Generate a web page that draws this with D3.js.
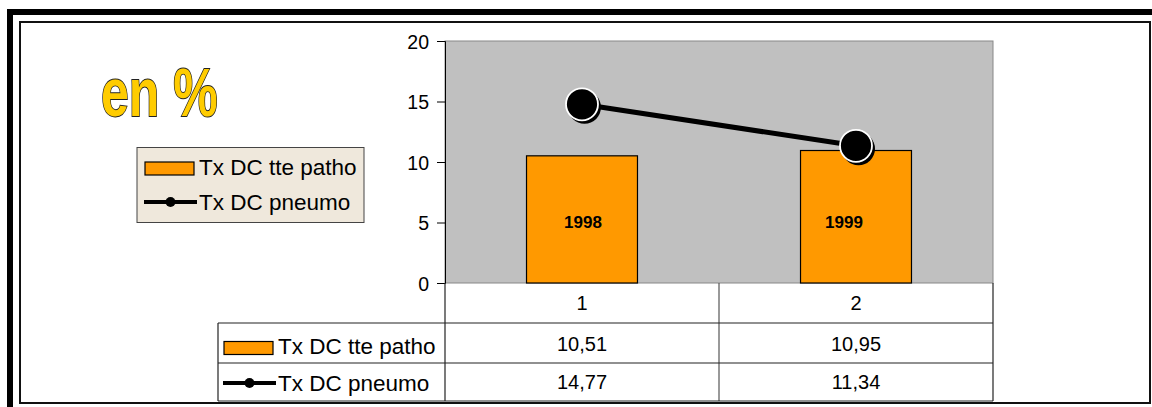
<!DOCTYPE html>
<html><head><meta charset="utf-8">
<script src="https://cdn.jsdelivr.net/npm/d3@7"></script>
<style>html,body{margin:0;padding:0;background:#fff;}svg{display:block;font-family:Arial,"Liberation Sans",sans-serif;}</style>
</head><body><svg id="c" width="1152" height="407"></svg>
<script>
const categories = ["1","2"];
const barLabels = ["1998","1999"];
const seriesNames = ["Tx DC tte patho","Tx DC pneumo"];
const patho = [10.51, 10.95];
const pneumo = [14.77, 11.34];
const tableLabels = ["10,51","10,95"];
const tableLabels2 = ["14,77","11,34"];
const yTicks = [0,5,10,15,20];

const svg = d3.select("#c");
const orange = "#FF9900";

// frames
svg.append("path").attr("d","M10,407 V12 H1152").attr("fill","none").attr("stroke","#000").attr("stroke-width",6);
svg.append("rect").attr("x",20).attr("y",22).attr("width",1130).attr("height",381)
  .attr("fill","#fff").attr("stroke","#111").attr("stroke-width",2);

const x = d3.scaleBand().domain(categories).range([445,993]);
const y = d3.scaleLinear().domain([0,20]).range([283,41]);

// plot area
svg.append("rect").attr("x",445).attr("y",y(20)).attr("width",548).attr("height",y(0)-y(20))
  .attr("fill","#C0C0C0").attr("stroke","#888").attr("stroke-width",1);

// y axis
const ya = svg.append("g").attr("transform","translate(445,0)")
  .call(d3.axisLeft(y).tickValues(yTicks).tickSize(8).tickPadding(8));
ya.select(".domain").attr("stroke","#000");
ya.selectAll(".tick line").attr("stroke","#000");
ya.selectAll(".tick text").attr("font-size",19.5).attr("fill","#000").attr("dy","0.36em")
  .attr("font-family","Arial, 'Liberation Sans', sans-serif");

// bars
const bw = x.bandwidth()*0.405;
svg.selectAll(".bar").data(categories).enter().append("rect")
  .attr("x",(d)=>x(d)+x.bandwidth()/2-bw/2).attr("y",(d,i)=>y(patho[i]))
  .attr("width",bw).attr("height",(d,i)=>y(0)-y(patho[i]))
  .attr("fill",orange).attr("stroke","#000").attr("stroke-width",1.2);
const labDx = [1,-12];
svg.selectAll(".bl").data(categories).enter().append("text")
  .attr("x",(d,i)=>x(d)+x.bandwidth()/2+labDx[i]).attr("y",y(5)+5)
  .attr("text-anchor","middle").attr("font-size",17).attr("font-weight","bold").text((d,i)=>barLabels[i]);

// line
const line = d3.line().x((d,i)=>x(categories[i])+x.bandwidth()/2).y(d=>y(d));
svg.append("path").datum(pneumo).attr("d",line).attr("fill","none").attr("stroke","#000").attr("stroke-width",5);
svg.selectAll(".sh").data(pneumo).enter().append("circle")
  .attr("cx",(d,i)=>x(categories[i])+x.bandwidth()/2+2.5).attr("cy",d=>y(d)+3).attr("r",16.5).attr("fill","#000");
svg.selectAll(".pt").data(pneumo).enter().append("circle")
  .attr("cx",(d,i)=>x(categories[i])+x.bandwidth()/2).attr("cy",d=>y(d)).attr("r",16)
  .attr("fill","#000").attr("stroke","#fff").attr("stroke-width",1.8);

// data table
const g = svg.append("g").attr("stroke","#222").attr("stroke-width",1.2);
g.append("line").attr("x1",445).attr("x2",445).attr("y1",283).attr("y2",401);
g.append("line").attr("x1",x("2")).attr("x2",x("2")).attr("y1",283).attr("y2",401).attr("stroke","#555");
g.append("line").attr("x1",993).attr("x2",993).attr("y1",283).attr("y2",401);
g.append("line").attr("x1",218).attr("x2",218).attr("y1",323).attr("y2",401);
g.append("line").attr("x1",218).attr("x2",993).attr("y1",323).attr("y2",323);
g.append("line").attr("x1",218).attr("x2",993).attr("y1",363).attr("y2",363);
g.append("line").attr("x1",218).attr("x2",993).attr("y1",401).attr("y2",401);

svg.selectAll(".ct").data(categories).enter().append("text")
  .attr("x",d=>x(d)+x.bandwidth()/2).attr("y",310).attr("text-anchor","middle").attr("font-size",20).text(d=>d);
svg.selectAll(".r1").data(tableLabels).enter().append("text")
  .attr("x",(d,i)=>x(categories[i])+x.bandwidth()/2).attr("y",351).attr("text-anchor","middle").attr("font-size",20).text(d=>d);
svg.selectAll(".r2").data(tableLabels2).enter().append("text")
  .attr("x",(d,i)=>x(categories[i])+x.bandwidth()/2).attr("y",389).attr("text-anchor","middle").attr("font-size",20).text(d=>d);

function legendItems(gx, gy1, gy2, sw) {
  svg.append("rect").attr("x",gx).attr("y",gy1-6.5).attr("width",sw).attr("height",13)
    .attr("fill",orange).attr("stroke","#000").attr("stroke-width",1.2);
  svg.append("text").attr("x",gx+sw+5).attr("y",gy1+6).attr("font-size",22.5).text(seriesNames[0]);
  svg.append("line").attr("x1",gx-1).attr("x2",gx+sw+3).attr("y1",gy2).attr("y2",gy2).attr("stroke","#000").attr("stroke-width",4);
  svg.append("circle").attr("cx",gx+(sw+2)/2).attr("cy",gy2).attr("r",5).attr("fill","#000");
  svg.append("text").attr("x",gx+sw+5).attr("y",gy2+8).attr("font-size",22.5).text(seriesNames[1]);
}
// table legend
legendItems(224, 348, 383, 49);

// floating legend
svg.append("rect").attr("x",137).attr("y",147.5).attr("width",227).attr("height",75)
  .attr("fill","#EFE8DC").attr("stroke","#444").attr("stroke-width",1);
legendItems(145, 168.5, 202, 49);

// title WordArt
svg.append("text").attr("transform","translate(101,116) scale(1,1.36)")
  .attr("font-size",50).attr("font-weight","bold").attr("fill","#FFCC00")
  .attr("stroke","#222").attr("stroke-width",1.3).attr("paint-order","stroke")
  .attr("font-family","Arial, 'Liberation Sans', sans-serif").text("en %");
</script></body></html>
